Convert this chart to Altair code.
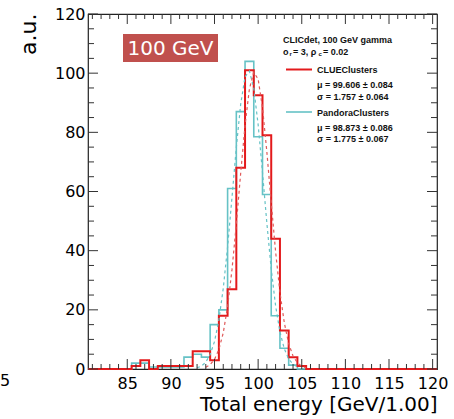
import altair as alt
import pandas as pd

# ---------------- data ----------------
bin_centers = list(range(81, 121))  # 1 GeV bins centred on integers (80.5 .. 120.5)

clue_counts = [0, 0, 0, 0, 0, 1, 3, 0, 1, 1,
               1, 1, 6, 6, 3, 18, 27, 68, 101, 92.5,
               79, 44, 13, 4, 1, 0, 0, 0, 0, 0,
               0, 0, 0, 0, 0, 0, 0, 0, 0, 0]

pandora_counts = [0, 0, 0, 0, 0, 2, 2, 0.7, 0.7, 0.7,
                  0.7, 4, 5, 4, 15, 20, 61, 87, 104, 78.5,
                  59, 18, 7, 1.3, 0, 0, 0, 0, 0, 0,
                  0, 0, 0, 0, 0, 0, 0, 0, 0, 0]

clue_fit_x = [94, 94.5, 95, 95.5, 96, 96.5, 97, 97.5, 98, 98.5, 99, 99.5,
              100, 100.5, 101, 101.5, 102, 102.5, 103, 103.5, 104, 104.5, 105, 105.5]
clue_fit_y = [0.6, 1.5, 3.2, 6.6, 12.2, 21.1, 33.5, 49.0, 66.2, 82.4, 94.7, 100.3,
              98.0, 88.3, 73.4, 56.2, 39.7, 25.9, 15.6, 8.6, 4.4, 2.1, 0.9, 0.4]

pandora_fit_x = [93, 93.5, 94, 94.5, 95, 95.5, 96, 96.5, 97, 97.5, 98, 98.5,
                 99, 99.5, 100, 100.5, 101, 101.5, 102, 102.5, 103, 103.5, 104, 104.5]
pandora_fit_y = [0.4, 1.0, 2.3, 4.9, 9.3, 16.6, 27.2, 41.3, 57.9, 74.9, 89.5, 98.8,
                 100.7, 94.9, 82.6, 66.4, 49.3, 33.8, 21.4, 12.5, 6.8, 3.4, 1.6, 0.7]

x_tick_labels = [85, 90, 95, 100, 105, 110, 115, 120]
y_tick_labels = [0, 20, 40, 60, 80, 100, 120]
x_minor_ticks = list(range(81, 121))
y_minor_ticks = list(range(0, 121, 5))

RED = "#e31a1c"
CYAN = "#66c2c6"
W, H = 349, 355
FONT = "DejaVu Sans"
LFONT = "Liberation Sans"


def step_frame(vals):
    edges = [c - 0.5 for c in bin_centers] + [bin_centers[-1] + 0.5]
    ys = list(vals) + [vals[-1]]
    return pd.DataFrame({"x": edges, "y": ys})


xs = alt.Scale(domain=[80.5, 120.5], nice=False, zero=False)
ys = alt.Scale(domain=[0, 120], nice=False, zero=True)

xaxis = alt.Axis(values=x_tick_labels, ticks=False, domain=False, grid=False,
                 labelFont=FONT, labelFontSize=16, labelColor="black", labelPadding=6,
                 title="Total energy [GeV/1.00]", titleFont=FONT, titleFontSize=20,
                 titleFontWeight="normal", titleColor="black", titleAnchor="end",
                 titleAlign="right", titleX=W, titleY=41, titleBaseline="alphabetic")
yaxis = alt.Axis(values=y_tick_labels, ticks=False, domain=False, grid=False,
                 labelFont=FONT, labelFontSize=16, labelColor="black", labelPadding=3,
                 title="a.u.", titleFont=FONT, titleFontSize=22, titleFontWeight="normal",
                 titleColor="black", titleAngle=270, titleAlign="right",
                 titleX=-53, titleY=-1, titleBaseline="alphabetic")

X = alt.X("x:Q", scale=xs, axis=xaxis)
Y = alt.Y("y:Q", scale=ys, axis=yaxis)

pandora_hist = alt.Chart(step_frame(pandora_counts)).mark_line(
    interpolate="step-after", color=CYAN, strokeWidth=1.6).encode(x=X, y=Y)
clue_hist = alt.Chart(step_frame(clue_counts)).mark_line(
    interpolate="step-after", color=RED, strokeWidth=2).encode(x=X, y=Y)

pandora_fit = alt.Chart(pd.DataFrame({"x": pandora_fit_x, "y": pandora_fit_y})).mark_line(
    color=CYAN, strokeWidth=1.2, strokeDash=[3, 3]).encode(x=X, y=Y)
clue_fit = alt.Chart(pd.DataFrame({"x": clue_fit_x, "y": clue_fit_y})).mark_line(
    color="#e05a5a", strokeWidth=1.2, strokeDash=[3, 3]).encode(x=X, y=Y)

# ----- inward ticks on all four sides -----
xmaj = pd.DataFrame({"x": [v for v in x_minor_ticks if v % 5 == 0]})
xmin = pd.DataFrame({"x": [v for v in x_minor_ticks if v % 5 != 0]})
ymaj = pd.DataFrame({"y": [v for v in y_minor_ticks if v % 20 == 0]})
ymin = pd.DataFrame({"y": [v for v in y_minor_ticks if v % 20 != 0]})
TC = "#333333"
ticks = []
for df, ln in ((xmaj, 10), (xmin, 5)):
    ticks.append(alt.Chart(df).mark_rule(color=TC, strokeWidth=1).encode(
        x=X, y=alt.value(H), y2=alt.value(H - ln)))
    ticks.append(alt.Chart(df).mark_rule(color=TC, strokeWidth=1).encode(
        x=X, y=alt.value(0), y2=alt.value(ln)))
for df, ln in ((ymaj, 10), (ymin, 6)):
    ticks.append(alt.Chart(df).mark_rule(color=TC, strokeWidth=1).encode(
        y=Y, x=alt.value(0), x2=alt.value(ln)))
    ticks.append(alt.Chart(df).mark_rule(color=TC, strokeWidth=1).encode(
        y=Y, x=alt.value(W), x2=alt.value(W - ln)))

# ----- energy label box -----
box = alt.Chart(pd.DataFrame({"a": [0]})).mark_rect(color="#c0504d").encode(
    x=alt.value(35), x2=alt.value(130), y=alt.value(20), y2=alt.value(48))
box_text = alt.Chart(pd.DataFrame({"t": ["100 GeV"]})).mark_text(
    font=FONT, fontSize=20, color="white", align="center", baseline="middle").encode(
    text="t:N", x=alt.value(82.5), y=alt.value(35))


# ----- legend -----
def txt(s, px, py, size=9, bold=True, color="#111111", align="left"):
    return alt.Chart(pd.DataFrame({"t": [s]})).mark_text(
        font=LFONT, fontSize=size, fontWeight="bold" if bold else "normal",
        color=color, align=align, baseline="middle").encode(
        text="t:N", x=alt.value(px - 88), y=alt.value(py - 14))


legend = [
    txt("CLICdet, 100 GeV gamma", 283, 39.5),
    txt("o", 283, 51.5),
    txt("r", 289.5, 54, size=6),
    txt("= 3, ρ", 293, 51.5),
    txt("c", 318.5, 54, size=6),
    txt("= 0.02", 323, 51.5),
    txt("CLUEClusters", 317, 69.5),
    txt("μ = 99.606 ± 0.084", 317, 84.5),
    txt("σ = 1.757 ± 0.064", 317, 96.5),
    txt("PandoraClusters", 317, 112.5),
    txt("μ = 98.873 ± 0.086", 317, 127.5),
    txt("σ = 1.775 ± 0.067", 317, 138.5),
]
leg_red = alt.Chart(pd.DataFrame({"a": [0]})).mark_rule(color=RED, strokeWidth=2).encode(
    x=alt.value(286 - 88), x2=alt.value(312 - 88), y=alt.value(69.5 - 14))
leg_cyan = alt.Chart(pd.DataFrame({"a": [0]})).mark_rule(color=CYAN, strokeWidth=1.6).encode(
    x=alt.value(286 - 88), x2=alt.value(312 - 88), y=alt.value(112 - 14))

# fragment of a neighbouring panel's tick label at the far left
frag = alt.Chart(pd.DataFrame({"t": ["5"]})).mark_text(
    font=FONT, fontSize=16, color="black", align="left", baseline="middle").encode(
    text="t:N", x=alt.value(0 - 88), y=alt.value(381 - 14))

chart = alt.layer(
    pandora_hist, clue_hist, pandora_fit, clue_fit, *ticks,
    box, box_text, leg_red, leg_cyan, *legend, frag
).properties(
    width=W, height=H,
    autosize=alt.AutoSizeParams(type="none"),
    padding={"left": 88, "top": 14, "right": 17, "bottom": 50},
    background="white",
).configure_view(stroke="#222222", strokeWidth=1.2)

chart.save("out.html", embed_options={"renderer": "svg", "actions": False})
